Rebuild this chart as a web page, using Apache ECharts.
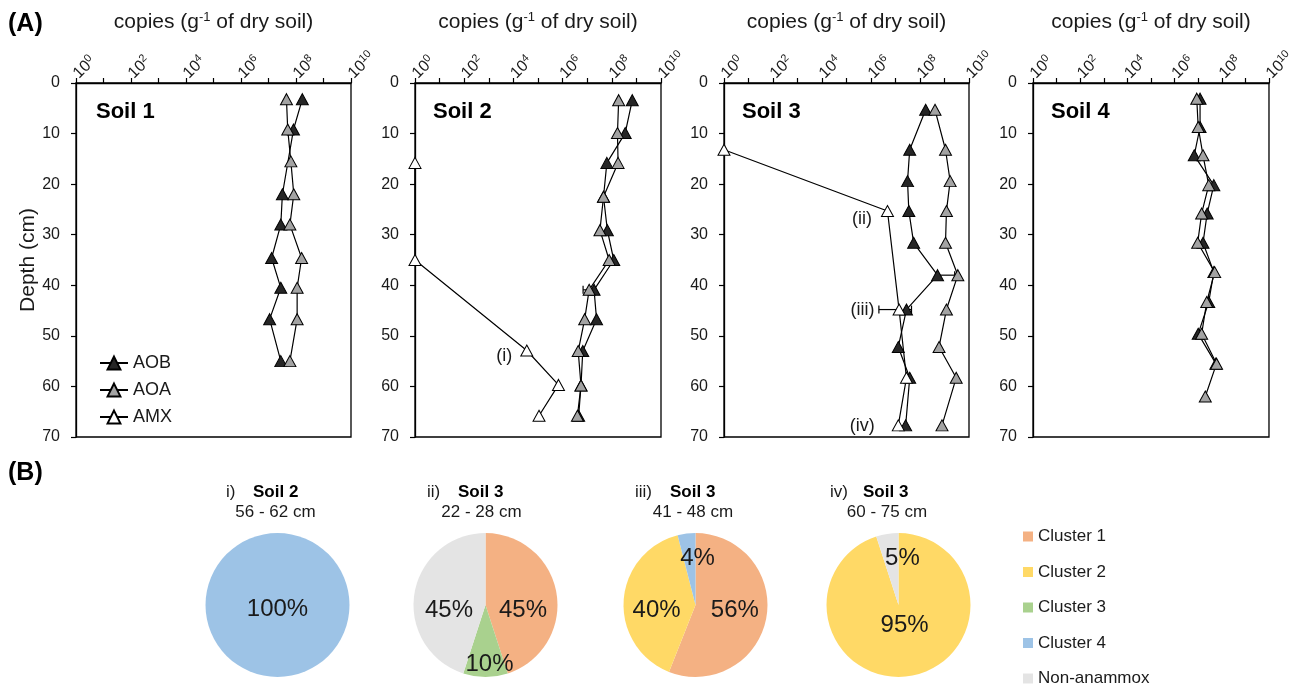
<!DOCTYPE html>
<html><head><meta charset="utf-8">
<script src="https://cdn.jsdelivr.net/npm/echarts@6/dist/echarts.min.js"></script>
<style>html,body{margin:0;padding:0;background:#fff}#c{width:1298px;height:684px}</style>
</head><body><div id="c"></div>
<script>
// ================= DATA =================
// Panel (A): gene copies per g dry soil vs depth (cm)
const soil1AobDepth  = [3.2, 9.2, 22.0, 28.0, 34.6, 40.5, 46.7, 55.0];
const soil1AobCopies = [1.7e8, 8.1e7, 3.2e7, 2.8e7, 1.3e7, 2.8e7, 1.1e7, 2.8e7];
const soil1AoaDepth  = [3.2, 9.2, 15.5, 22.0, 28.0, 34.6, 40.5, 46.7, 55.0];
const soil1AoaCopies = [4.5e7, 5.0e7, 6.5e7, 8.3e7, 6.0e7, 1.6e8, 1.1e8, 1.1e8, 6.0e7];

const soil2Depth     = [3.4, 9.9, 15.8, 22.5, 29.1, 35.0, 40.9, 46.7, 53.0, 59.8, 65.8];
const soil2AobCopies = [6.8e8, 3.5e8, 6.3e7, 4.6e7, 6.6e7, 1.2e8, 1.9e7, 2.4e7, 6.6e6, 5.6e6, 4.5e6];
const soil2AoaCopies = [1.9e8, 1.7e8, 1.8e8, 4.6e7, 3.3e7, 7.8e7, 1.2e7, 7.9e6, 4.3e6, 5.6e6, 4.0e6];
const soil2AmxDepth  = [15.8, 35.0, 52.9, 59.7, 65.8];
const soil2AmxCopies = [1, 1, 3.5e4, 6.8e5, 1.1e5];
const soil2AmxNotes  = ['', '', '(i)', '', ''];
const soil2ErrBars   = [[40.9, 6.8e6, 1.2e7]];           // [depth, low, high]

const soil3Depth     = [5.3, 13.2, 19.4, 25.3, 31.6, 38.0, 44.8, 52.2, 58.3, 67.7];
const soil3AobCopies = [1.7e8, 3.8e7, 3.1e7, 3.5e7, 5.5e7, 5.2e8, 2.8e7, 1.3e7, 3.8e7, 2.6e7];
const soil3AoaCopies = [4.1e8, 1.1e9, 1.7e9, 1.2e9, 1.1e9, 3.5e9, 1.2e9, 6.0e8, 3.0e9, 7.9e8];
const soil3AmxDepth  = [13.2, 25.3, 44.8, 58.3, 67.7];
const soil3AmxCopies = [1, 4.7e6, 1.4e7, 2.8e7, 1.3e7];
const soil3AmxNotes  = ['', '(ii)', '(iii)', '', '(iv)'];
const soil3ErrBars   = [[38.0, 5.2e8, 2.6e9], [44.8, 2.1e6, 1.4e7], [44.8, 2.8e7, 4.5e7]];

const soil4AobDepth  = [3.1, 8.7, 14.3, 20.2, 25.8, 31.6, 37.4, 43.3, 49.6, 55.5];
const soil4AobCopies = [1.2e7, 1.2e7, 6.8e6, 4.6e7, 2.4e7, 1.6e7, 4.6e7, 2.8e7, 1.0e7, 5.6e7];
const soil4AoaDepth  = [3.1, 8.7, 14.3, 20.2, 25.8, 31.6, 37.4, 43.3, 49.6, 55.5, 62.0];
const soil4AoaCopies = [8.7e6, 1.0e7, 1.6e7, 2.8e7, 1.4e7, 9.5e6, 5.0e7, 2.3e7, 1.4e7, 6.0e7, 2.0e7];

const soilLabels  = ['Soil 1', 'Soil 2', 'Soil 3', 'Soil 4'];
const geneNames   = ['AOB', 'AOA', 'AMX'];

// Panel (B): anammox community composition (%)
const clusterNames = ['Cluster 1', 'Cluster 2', 'Cluster 3', 'Cluster 4', 'Non-anammox'];
const pie1Names = ['Cluster 4'];                             const pie1Values = [100];
const pie2Names = ['Cluster 1', 'Cluster 3', 'Non-anammox']; const pie2Values = [45, 10, 45];
const pie3Names = ['Cluster 1', 'Cluster 2', 'Cluster 4'];   const pie3Values = [56, 40, 4];
const pie4Names = ['Cluster 2', 'Non-anammox'];              const pie4Values = [95, 5];
const pieRoman  = ['i)', 'ii)', 'iii)', 'iv)'];
const pieSoil   = ['Soil 2', 'Soil 3', 'Soil 3', 'Soil 3'];
const pieRange  = ['56 - 62 cm', '22 - 28 cm', '41 - 48 cm', '60 - 75 cm'];

// ================= STYLE / LAYOUT =================
const FONT = '"Liberation Sans", Arial, sans-serif';
const TXT = '#1a1a1a';
const grids = [
  {left: 76,   top: 83, width: 275, height: 354},
  {left: 415,  top: 83, width: 246, height: 354},
  {left: 724,  top: 83, width: 245, height: 354},
  {left: 1033, top: 83, width: 246, height: 354}
];
const geneFill = {AOB: '#262626', AOA: '#a3a3a3', AMX: '#ffffff'};
const clusterColor = {'Cluster 1': '#F4B183', 'Cluster 2': '#FFD966', 'Cluster 3': '#A9D18E', 'Cluster 4': '#9DC3E6', 'Non-anammox': '#E4E4E4'};

function pts(depths, vals, notes, noteStyles) {
  return depths.map((d, i) => {
    const item = {value: [vals[i], d]};
    if (notes && notes[i]) {
      item.label = Object.assign({show: true, position: 'left', formatter: notes[i],
        fontSize: 18, color: TXT, fontFamily: FONT}, noteStyles[notes[i]] || {});
    }
    return item;
  });
}
function lineSeries(name, gi, data, z) {
  return {
    type: 'line', name: name, xAxisIndex: gi, yAxisIndex: gi, data: data,
    symbol: 'triangle', symbolSize: [12, 11], showSymbol: true, z: z,
    lineStyle: {color: '#000', width: 1.2},
    itemStyle: {color: geneFill[name], borderColor: '#000', borderWidth: 1},
    emphasis: {disabled: true}, animation: false
  };
}
function errSeries(gi, bars) {
  return {
    type: 'custom', xAxisIndex: gi, yAxisIndex: gi, z: 1, silent: true, animation: false,
    data: bars, encode: {x: [1, 2], y: 0},
    renderItem: function (params, api) {
      const d = api.value(0), lo = api.value(1), hi = api.value(2);
      const p1 = api.coord([lo, d]), p2 = api.coord([hi, d]);
      const st = {stroke: '#000', lineWidth: 1.2};
      return {type: 'group', children: [
        {type: 'line', shape: {x1: p1[0], y1: p1[1], x2: p2[0], y2: p2[1]}, style: st},
        {type: 'line', shape: {x1: p1[0], y1: p1[1] - 4, x2: p1[0], y2: p1[1] + 4}, style: st},
        {type: 'line', shape: {x1: p2[0], y1: p2[1] - 4, x2: p2[0], y2: p2[1] + 4}, style: st}
      ]};
    }
  };
}
const noteStyles = {
  '(i)':   {distance: 8,  offset: [0, 6]},
  '(ii)':  {distance: 9,  offset: [0, 8]},
  '(iii)': {distance: 18, offset: [0, 0]},
  '(iv)':  {distance: 17, offset: [0, 1]}
};

const xAxes = grids.map((g, i) => ({
  type: 'log', logBase: 10, gridIndex: i, position: 'top', min: 1, max: 1e10,
  interval: 1, splitNumber: 10,
  name: 'copies (g{s|-1} of dry soil)', nameLocation: 'middle', nameGap: 50,
  nameTextStyle: {fontSize: 21, color: TXT, fontFamily: FONT,
    rich: {s: {fontSize: 13, color: TXT, fontFamily: FONT, padding: [0, 0, 9, 0]}}},
  axisLine: {show: true, lineStyle: {color: '#000', width: 1.3}},
  axisTick: {show: true, inside: false, length: 5, lineStyle: {color: '#000', width: 1.2}},
  splitLine: {show: false}, minorTick: {show: false},
  axisLabel: {
    rotate: 45, margin: 7, color: TXT, fontFamily: FONT, fontSize: 16,
    formatter: function (v) {
      const e = Math.round(Math.log10(v));
      return e % 2 === 0 ? '{b|10}{s|' + e + '}' : '';
    },
    rich: {b: {fontSize: 16, color: TXT, fontFamily: FONT},
           s: {fontSize: 11, color: TXT, fontFamily: FONT, padding: [0, 0, 8, 0]}}
  }
}));
const yAxes = grids.map((g, i) => ({
  type: 'value', gridIndex: i, inverse: true, min: 0, max: 70, interval: 10,
  name: i === 0 ? 'Depth (cm)' : '', nameLocation: 'middle', nameGap: 37, nameRotate: 90,
  nameTextStyle: {fontSize: 21, color: TXT, fontFamily: FONT},
  axisLine: {show: true, lineStyle: {color: '#000', width: 1.3}},
  axisTick: {show: true, inside: false, length: 5, lineStyle: {color: '#000', width: 1.2}},
  splitLine: {show: false},
  axisLabel: {margin: 16, color: TXT, fontFamily: FONT, fontSize: 16}
}));

const series = [
  lineSeries('AOB', 0, pts(soil1AobDepth, soil1AobCopies), 3),
  lineSeries('AOA', 0, pts(soil1AoaDepth, soil1AoaCopies), 4),
  lineSeries('AMX', 0, [], 5),   // Soil 1: no AMX values plotted (legend entry only)

  errSeries(1, soil2ErrBars),
  lineSeries('AOB', 1, pts(soil2Depth, soil2AobCopies), 3),
  lineSeries('AOA', 1, pts(soil2Depth, soil2AoaCopies), 4),
  lineSeries('AMX', 1, pts(soil2AmxDepth, soil2AmxCopies, soil2AmxNotes, noteStyles), 5),

  errSeries(2, soil3ErrBars),
  lineSeries('AOB', 2, pts(soil3Depth, soil3AobCopies), 3),
  lineSeries('AOA', 2, pts(soil3Depth, soil3AoaCopies), 4),
  lineSeries('AMX', 2, pts(soil3AmxDepth, soil3AmxCopies, soil3AmxNotes, noteStyles), 5),

  lineSeries('AOB', 3, pts(soil4AobDepth, soil4AobCopies), 3),
  lineSeries('AOA', 3, pts(soil4AoaDepth, soil4AoaCopies), 4)
];

// pies
const pieCenters = [[277.5, 605], [485.5, 605], [695.5, 605], [898.5, 605]];
const pieLabelShift = [ // fine placement of value labels, [dx, dy] per slice (style only)
  [[0, -35]],
  [[-1, 11], [4, 20], [2, 11]],
  [[1, -2], [0, 8], [7, -8]],
  [[0, -18], [10, -8]]
];
[[pie1Names, pie1Values], [pie2Names, pie2Values], [pie3Names, pie3Values], [pie4Names, pie4Values]]
  .forEach((p, k) => {
    series.push({
      type: 'pie', center: pieCenters[k], radius: 72, startAngle: 90, clockwise: true,
      avoidLabelOverlap: false, silent: true, animation: false,
      label: {show: true, position: 'inside', formatter: '{c}%', fontSize: 24, color: TXT, fontFamily: FONT},
      labelLine: {show: false},
      labelLayout: function (params) {
        const s = pieLabelShift[k][params.dataIndex] || [0, 0];
        return {dx: s[0], dy: s[1]};
      },
      data: p[0].map((n, i) => ({
        name: n, value: p[1][i],
        itemStyle: {color: clusterColor[n], borderWidth: 0}
      }))
    });
  });

// text graphics
const romanX = [226, 427, 635, 830], soilX = [253, 458, 670, 863], rangeX = [275.5, 481.5, 693, 887];
const soilLabelX = [96, 433, 742, 1051];
const graphics = [
  {type: 'text', x: 8, y: 24, style: {text: '(A)', font: 'bold 25px ' + FONT, fill: '#000', verticalAlign: 'middle'}},
  {type: 'text', x: 8, y: 473, style: {text: '(B)', font: 'bold 25px ' + FONT, fill: '#000', verticalAlign: 'middle'}}
];
soilLabels.forEach((t, i) => graphics.push({type: 'text', x: soilLabelX[i], y: 112,
  style: {text: t, font: 'bold 22px ' + FONT, fill: '#000', verticalAlign: 'middle'}}));
pieRoman.forEach((t, i) => {
  graphics.push({type: 'text', x: romanX[i], y: 492, style: {text: t, font: '17px ' + FONT, fill: TXT, verticalAlign: 'middle'}});
  graphics.push({type: 'text', x: soilX[i], y: 492, style: {text: pieSoil[i], font: 'bold 17px ' + FONT, fill: '#000', verticalAlign: 'middle'}});
  graphics.push({type: 'text', x: rangeX[i], y: 512, style: {text: pieRange[i], font: '17px ' + FONT, fill: TXT, align: 'center', verticalAlign: 'middle'}});
});

const chart = echarts.init(document.getElementById('c'), null, {renderer: 'canvas'});
chart.setOption({
  backgroundColor: '#fff',
  animation: false,
  textStyle: {fontFamily: FONT},
  grid: grids.map(g => Object.assign({show: true, borderColor: '#000', borderWidth: 1.3, backgroundColor: 'transparent'}, g)),
  xAxis: xAxes,
  yAxis: yAxes,
  legend: [
    {data: geneNames, orient: 'vertical', left: 99, top: 354, padding: 0, itemWidth: 28, itemHeight: 16, itemGap: 9,
     selectedMode: false, textStyle: {fontSize: 18, color: TXT, fontFamily: FONT, lineHeight: 18}},
    {data: clusterNames, orient: 'vertical', left: 1023, top: 528, height: 200, padding: 0, itemWidth: 10, itemHeight: 10, itemGap: 18.5,
     icon: 'rect', selectedMode: false, textStyle: {fontSize: 17, color: TXT, fontFamily: FONT, lineHeight: 14}}
  ],
  graphic: graphics,
  series: series
});
</script></body></html>
